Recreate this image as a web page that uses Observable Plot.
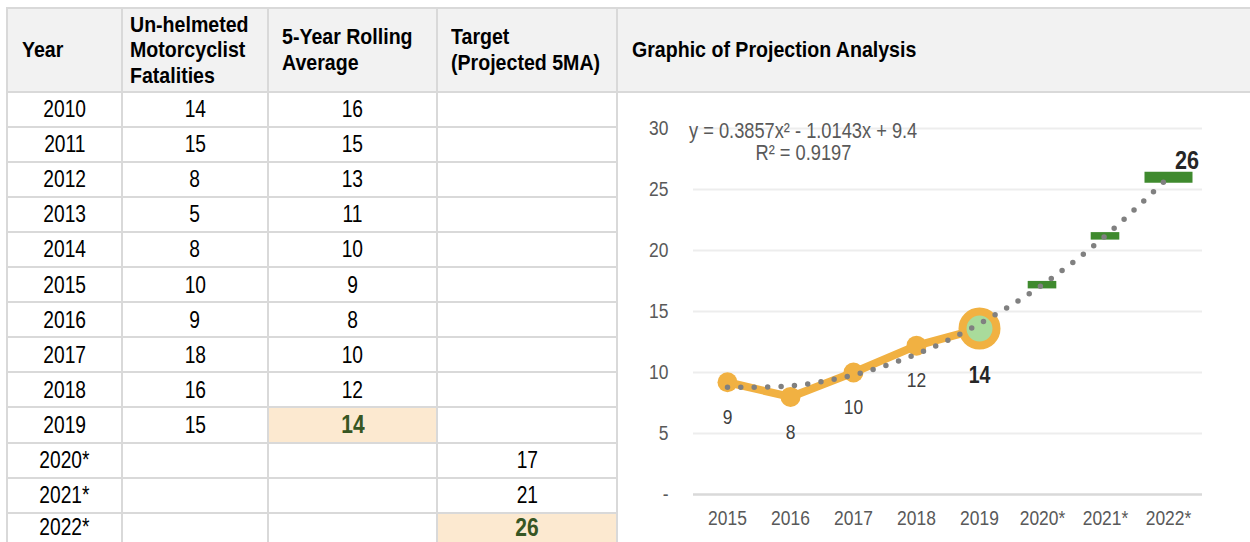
<!DOCTYPE html>
<html><head><meta charset="utf-8">
<script src="https://cdn.jsdelivr.net/npm/d3@7"></script>
<script src="https://cdn.jsdelivr.net/npm/@observablehq/plot@0.6"></script>
<style>
body{margin:0;background:#fff;}
#wrap{position:relative;width:1250px;height:542px;overflow:hidden;font-family:"Liberation Sans","Arial",sans-serif;}
.ln{position:absolute;background:#d9d9d9;}
.hd{position:absolute;display:flex;align-items:center;font-weight:bold;font-size:22px;color:#000;}
.hd span{display:inline-block;white-space:pre;line-height:25.5px;transform:scaleX(0.89);transform-origin:left center;}
.cell{position:absolute;display:flex;align-items:center;justify-content:center;font-size:24px;color:#000;}
.cell span{display:inline-block;line-height:1;transform:scaleX(0.8);transform-origin:center center;}
.hl{background:#fce9d0;}
.cell span.hlt{color:#375623;font-weight:bold;font-size:25px;transform:scaleX(0.84);}
#chart{position:absolute;left:617px;top:92px;}
</style>
</head><body>
<div id="wrap"></div>
<script>
// ---- table data ----
const tableYears = ["2010","2011","2012","2013","2014","2015","2016","2017","2018","2019","2020*","2021*","2022*"];
const fatalities = [14,15,8,5,8,10,9,18,16,15,null,null,null];
const rollingAvg = [16,15,13,11,10,9,8,10,12,14,null,null,null];
const targets = [null,null,null,null,null,null,null,null,null,null,17,21,26];
const headers = ["Year","Un-helmeted\nMotorcyclist\nFatalities","5-Year Rolling\nAverage","Target\n(Projected 5MA)","Graphic of Projection Analysis"];

// ---- chart data ----
const chartYears = ["2015","2016","2017","2018","2019","2020*","2021*","2022*"];
const avgYears = ["2015","2016","2017","2018","2019"];
const avgValues = [9.2, 8.0, 10.0, 12.2, 13.6];
const avgLabels = ["9","8","10","12","14"];
const trendValues = [8.8, 8.9, 9.8, 11.5, 14.0, 17.2, 21.2, 26.0];
const targetYears = ["2020*","2021*","2022*"];
const targetValues = [17.2, 21.2, 26.0];
const targetLabel = "26";
const yTicks = [0,5,10,15,20,25,30];
const equation = "y = 0.3857x² - 1.0143x + 9.4";
const rSquared = "R² = 0.9197";

// ---- layout / style ----
const colX = [7,122,268,437,617,1252];
const headPad = [15,8,14,14,15];
const topY = 8, headBottom = 91.5, rowH = 35.1, pageH = 542;
const highlight = {"9,2":true,"12,3":true};
const FONT = '"Liberation Sans","Arial",sans-serif';
const ORANGE = "#f1b142", GREEN = "#3f8a2e", LIGHTGREEN = "#a9db9b";
const NARROW = 0.83;

const wrap = document.getElementById("wrap");
function el(cls, css){const d=document.createElement("div");d.className=cls;Object.assign(d.style,css);wrap.appendChild(d);return d;}
function span(parent, txt, cls){const s=document.createElement("span");s.textContent=txt;if(cls)s.className=cls;parent.appendChild(s);return s;}

// header background
el("", {position:"absolute",left:colX[0]+"px",top:topY+"px",width:(1250-colX[0])+"px",height:(headBottom-topY)+"px",background:"#f2f2f2"});
// body cells
const cols = [tableYears, fatalities, rollingAvg, targets];
tableYears.forEach((y,r)=>{
  cols.forEach((col,c)=>{
    const v = col[r];
    const top = headBottom + r*rowH;
    const h = Math.min(rowH, pageH - top);
    const key = r+","+c;
    const d = el("cell"+(highlight[key]?" hl":""), {left:colX[c]+"px",top:top+"px",width:(colX[c+1]-colX[c])+"px",height:h+"px"});
    if (v!=null) span(d, String(v), highlight[key] ? "hlt" : null);
  });
});
headers.forEach((h,c)=>{
  const d = el("hd",{left:(colX[c]+headPad[c])+"px",top:topY+"px",height:(headBottom-topY)+"px",width:(colX[c+1]-colX[c]-headPad[c])+"px"});
  span(d, h);
});
// grid lines
el("ln",{left:colX[0]+"px",top:(topY-1)+"px",width:(1250-colX[0])+"px",height:"2px"});
el("ln",{left:colX[0]+"px",top:(headBottom-1)+"px",width:(1250-colX[0])+"px",height:"2px"});
for(let k=1;k<tableYears.length;k++) el("ln",{left:colX[0]+"px",top:(headBottom+k*rowH-1)+"px",width:(colX[4]-colX[0])+"px",height:"2px"});
for(let c=0;c<5;c++) el("ln",{left:(colX[c]-1)+"px",top:(topY-1)+"px",width:"2px",height:(pageH-topY+1)+"px"});

// ---- chart ----
const avg = avgYears.map((year,i)=>({year, value:avgValues[i], label:avgLabels[i]}));
const trend = chartYears.map((year,i)=>({year, value:trendValues[i]}));
const tgt = targetYears.map((year,i)=>({year, value:targetValues[i]}));

const chart = Plot.plot({
  width: 633, height: 450,
  marginLeft: 76, marginRight: 48, marginTop: 36, marginBottom: 48,
  x: {type:"point", domain: chartYears, padding: 0.5},
  y: {domain:[0,30]},
  style: {fontFamily: FONT, fontSize: "21px", background: "transparent", overflow: "visible"},
  marks: [
    Plot.ruleY(yTicks.filter(d=>d>0), {stroke:"#ededed", strokeWidth:2}),
    Plot.ruleY([0], {stroke:"#d9d9d9", strokeWidth:2.5}),
    Plot.axisY({ticks: yTicks, tickSize:0, tickPadding:25, tickFormat: d => d===0 ? "-" : String(d), fontSize:21, color:"#595959", label:null}),
    Plot.axisX({tickSize:0, tickPadding:16, fontSize:21, color:"#595959", label:null}),
    Plot.line(avg, {x:"year", y:"value", stroke:ORANGE, strokeWidth:8}),
    Plot.dot(avg.slice(0,4), {x:"year", y:"value", r:10, fill:ORANGE}),
    Plot.dot(avg.slice(4), {x:"year", y:"value", r:17, fill:LIGHTGREEN, stroke:ORANGE, strokeWidth:8}),
    Plot.ruleY(tgt.slice(0,2), {x1:"year", x2:"year", y:"value", insetLeft:-14.3, insetRight:-14.3, stroke:GREEN, strokeWidth:7.5}),
    Plot.ruleY(tgt.slice(2), {x1:"year", x2:"year", y:"value", insetLeft:-23.5, insetRight:-24.5, stroke:GREEN, strokeWidth:11}),
    Plot.line(trend, {x:"year", y:"value", curve:"catmull-rom", stroke:"#808080", strokeWidth:5.5, strokeDasharray:"0 13.4", strokeLinecap:"round"}),
    Plot.text(avg.slice(0,4), {x:"year", y:"value", text:"label", dy:35, fontSize:21, fill:"#404040"}),
    Plot.text(avg.slice(4), {x:"year", y:"value", text:"label", dy:47, fontSize:23.5, fontWeight:"bold", fill:"#262626"}),
    Plot.text(tgt.slice(2), {x:"year", y:"value", text:() => targetLabel, dx:30.5, dy:-17, textAnchor:"end", fontSize:26, fontWeight:"bold", fill:"#262626"}),
    Plot.text([equation], {frameAnchor:"top-left", dx:-4.5, dy:2, textAnchor:"start", lineAnchor:"middle", fontSize:22, fill:"#595959"}),
    Plot.text([rSquared], {frameAnchor:"top-left", dx:62, dy:24, textAnchor:"start", lineAnchor:"middle", fontSize:22, fill:"#595959"})
  ]
});
chart.id = "chart";
wrap.appendChild(chart);

// condense chart texts horizontally (narrow face look), keeping each text's anchor fixed
chart.querySelectorAll("text").forEach(t => {
  const b = t.getBBox();
  const anchor = getComputedStyle(t).textAnchor;
  const cx = anchor === "end" ? b.x + b.width : anchor === "middle" ? b.x + b.width/2 : b.x;
  const prev = t.getAttribute("transform") || "";
  t.setAttribute("transform", `${prev} translate(${cx},0) scale(${NARROW},1) translate(${-cx},0)`);
});
</script>
</body></html>
